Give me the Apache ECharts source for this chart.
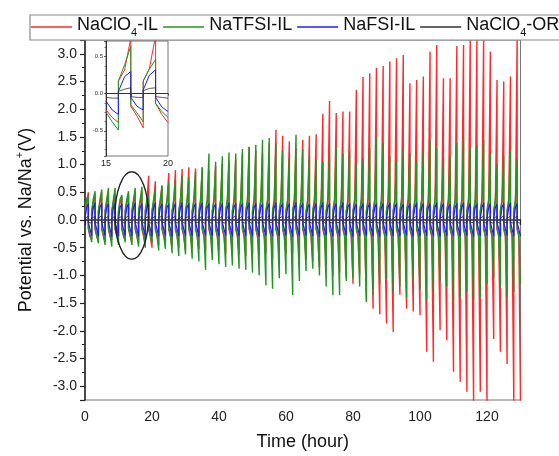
<!DOCTYPE html>
<html><head><meta charset="utf-8">
<script src="https://cdn.jsdelivr.net/npm/echarts@6/dist/echarts.min.js"></script>
<style>html,body{margin:0;padding:0;background:#fff}#c{width:559px;height:456px}</style>
</head><body><div id="c"></div>
<script>
// ---- data ----
const seriesNames = ['NaClO4-IL', 'NaTFSI-IL', 'NaFSI-IL', 'NaClO4-OR'];
const xTickLabels = ['0', '20', '40', '60', '80', '100', '120'];
const yTickLabels = ['-3.0','-2.5','-2.0','-1.5','-1.0','-0.5','0.0','0.5','1.0','1.5','2.0','2.5','3.0'];
// one entry per 2-hour cycle: positive peak at end of charge, negative peak at end of discharge
const redPos = [0.50,0.47,0.50,0.46,0.44,0.42,0.46,0.50,0.52,0.80, 0.70,0.62,0.85,0.90,0.92,0.95,0.93,0.95,0.90,0.98,
  1.00,1.05,1.10,1.20,1.32,1.25,1.20,1.38,1.63,1.52, 1.42,1.30,1.45,1.52,1.55,1.92,2.15,1.93,1.96,1.96,
  2.35,2.58,2.65,2.75,2.78,2.86,2.92,2.98,2.47,2.53, 2.59,3.04,3.16,2.56,2.56,3.14,3.16,3.30,3.30,3.30,
  3.04,2.53,2.50,2.59,3.30];
const redNeg = [-0.35,-0.38,-0.40,-0.36,-0.32,-0.35,-0.40,-0.42,-0.45,-0.50, -0.45,-0.42,-0.48,-0.50,-0.55,-0.50,-0.52,-0.55,-0.50,-0.55,
  -0.60,-0.58,-0.62,-0.65,-0.60,-0.62,-0.60,-0.70,-0.65,-0.62, -0.60,-0.68,-0.72,-0.75,-0.85,-0.80,-1.00,-0.95,-1.05,-1.15,
  -1.00,-1.45,-1.60,-1.70,-1.87,-2.02,-1.35,-1.60,-1.65,-1.72, -2.38,-2.56,-1.99,-2.17,-2.74,-2.92,-3.10,-3.30,-3.10,-3.30,
  -2.15,-2.38,-2.60,-3.30,-3.30];
const greenPos = [0.45,0.52,0.55,0.58,0.58,0.45,0.52,0.58,0.60,0.45, 0.55,0.62,0.68,0.72,0.80,0.78,0.88,0.95,1.20,1.05,
  1.15,1.22,1.20,1.28,1.32,1.36,1.45,1.48,1.38,1.25, 1.12,1.54,1.28,1.15,1.10,1.05,1.15,1.30,1.20,1.25,
  1.00,1.10,1.30,1.50,1.40,1.15,1.05,1.30,1.20,1.05, 1.25,1.45,1.30,1.10,1.15,1.40,1.50,1.30,1.35,1.45,
  1.20,1.00,1.15,1.25,1.10];
const greenNeg = [-0.40,-0.42,-0.45,-0.48,-0.45,-0.40,-0.45,-0.48,-0.50,-0.42, -0.55,-0.52,-0.60,-0.65,-0.62,-0.70,-0.75,-0.90,-0.72,-0.80,
  -0.85,-0.82,-0.88,-0.90,-0.95,-1.00,-1.18,-1.24,-1.05,-0.98, -1.36,-1.10,-0.92,-0.88,-1.00,-1.20,-1.36,-1.36,-1.10,-1.05,
  -1.20,-1.48,-1.35,-1.15,-1.05,-1.30,-1.20,-1.40,-1.10,-1.25, -1.45,-1.30,-1.10,-1.20,-1.45,-1.40,-1.30,-1.45,-1.40,-1.15,
  -1.05,-1.20,-1.40,-1.30,-1.15];
const bluePos = [0.30,0.31,0.30,0.30,0.31,0.29,0.30,0.31,0.30,0.30, 0.31,0.30,0.29,0.30,0.31,0.30,0.30,0.31,0.30,0.29,
  0.30,0.31,0.30,0.30,0.31,0.30,0.29,0.30,0.31,0.30, 0.30,0.31,0.30,0.29,0.30,0.31,0.30,0.30,0.31,0.30,
  0.29,0.30,0.31,0.30,0.30,0.31,0.30,0.29,0.30,0.31, 0.30,0.30,0.31,0.30,0.29,0.30,0.31,0.30,0.30,0.31,
  0.30,0.29,0.30,0.31,0.30];
const blueNeg = [-0.28,-0.29,-0.28,-0.30,-0.29,-0.28,-0.29,-0.30,-0.28,-0.29, -0.29,-0.28,-0.30,-0.29,-0.28,-0.29,-0.30,-0.28,-0.29,-0.29,
  -0.28,-0.30,-0.29,-0.28,-0.29,-0.30,-0.28,-0.29,-0.29,-0.28, -0.30,-0.29,-0.28,-0.29,-0.30,-0.28,-0.29,-0.29,-0.28,-0.30,
  -0.29,-0.28,-0.29,-0.30,-0.28,-0.29,-0.29,-0.28,-0.30,-0.29, -0.28,-0.29,-0.30,-0.28,-0.29,-0.29,-0.28,-0.30,-0.29,-0.28,
  -0.29,-0.30,-0.28,-0.29,-0.29];
const blackPos = [0.07,0.07,0.08,0.07,0.07,0.07,0.08,0.07,0.07,0.07, 0.07,0.08,0.07,0.07,0.07,0.07,0.08,0.07,0.07,0.07,
  0.07,0.07,0.08,0.07,0.07,0.07,0.07,0.08,0.07,0.07, 0.07,0.07,0.08,0.07,0.07,0.07,0.07,0.08,0.07,0.07,
  0.07,0.07,0.08,0.07,0.07,0.07,0.07,0.08,0.07,0.07, 0.07,0.07,0.08,0.07,0.07,0.07,0.07,0.08,0.07,0.07,
  0.07,0.07,0.08,0.07,0.07];
const blackNeg = [-0.06,-0.06,-0.05,-0.06,-0.06,-0.06,-0.05,-0.06,-0.06,-0.06, -0.06,-0.05,-0.06,-0.06,-0.06,-0.06,-0.05,-0.06,-0.06,-0.06,
  -0.06,-0.06,-0.05,-0.06,-0.06,-0.06,-0.06,-0.05,-0.06,-0.06, -0.06,-0.06,-0.05,-0.06,-0.06,-0.06,-0.06,-0.05,-0.06,-0.06,
  -0.06,-0.06,-0.05,-0.06,-0.06,-0.06,-0.06,-0.05,-0.06,-0.06, -0.06,-0.06,-0.05,-0.06,-0.06,-0.06,-0.06,-0.05,-0.06,-0.06,
  -0.06,-0.06,-0.05,-0.06,-0.06];
// start / mid-half values of each half cycle
const redShape   = [0.15, 0.32, -0.17, -0.30];
const greenShape = [0.17, 0.38, -0.15, -0.27];
const blueShape  = [0.03, 0.23, -0.05, -0.17];
const blackShape = [0.03, 0.06, -0.04, -0.05];
// inset (15-20 h)
const insetT     = [15, 15.5, 16, 16, 16.5, 17, 17, 17.5, 18, 18, 18.5, 19, 19, 19.5, 20];
const insetRed   = [-0.22,-0.32,-0.39, 0.17,0.32,0.75, -0.17,-0.30,-0.46, 0.17,0.34,0.78, -0.13,-0.28,-0.39];
const insetGreen = [-0.25,-0.38,-0.49, 0.17,0.39,0.64, -0.15,-0.26,-0.38, 0.17,0.33,0.46, -0.13,-0.24,-0.32];
const insetBlue  = [-0.10,-0.22,-0.28, 0.03,0.23,0.30, -0.05,-0.17,-0.22, 0.05,0.25,0.32, -0.05,-0.18,-0.24];
const insetBlack = [-0.05,-0.06,-0.06, 0.03,0.06,0.08, -0.04,-0.05,-0.05, 0.04,0.07,0.08, -0.04,-0.05,-0.06];
const ellipseCenter = [13.95, 0.08];
const ellipseRadius = [5.0, 0.79];

// ---- build ----
const colors = ['#ff2a2a', '#229622', '#1f1fff', '#333333'];
const widths = [1.4, 1.4, 1.3, 0.9];
const FONT = 'Liberation Sans, Arial, sans-serif';
function cycles(pos, neg, shape) {
  const pts = [];
  for (let k = 0; k < pos.length; k++) {
    const t0 = 2 * k;
    pts.push([t0, shape[0]], [t0 + 0.5, shape[1]], [t0 + 1, pos[k]]);
    pts.push([t0 + 1, shape[2]], [t0 + 1.5, shape[3]], [t0 + 2, neg[k]]);
  }
  return pts;
}
const mainData = [
  cycles(redPos, redNeg, redShape),
  cycles(greenPos, greenNeg, greenShape),
  cycles(bluePos, blueNeg, blueShape),
  cycles(blackPos, blackNeg, blackShape)
];
const insetData = [insetRed, insetGreen, insetBlue, insetBlack].map(a => a.map((v, i) => [insetT[i], v]));

const legendRich = {
  n: {fontSize: 18, fontFamily: FONT, color: '#111', lineHeight: 18, padding: [0, 0, 4, 0]},
  s: {fontSize: 11, fontFamily: FONT, color: '#111', lineHeight: 11, padding: [11, 0, 0, 0]}
};
function legendFmt(name) {
  const m = name.match(/^(.*ClO)4(.*)$/);
  if (m) return '{n|' + m[1] + '}{s|4}{n|' + m[2] + '}';
  return '{n|' + name + '}';
}

const chart = echarts.init(document.getElementById('c'), null, {renderer: 'canvas'});
const series = [];
seriesNames.forEach((nm, i) => {
  series.push({name: nm, type: 'line', xAxisIndex: 0, yAxisIndex: 0, data: mainData[i], showSymbol: false, symbol: 'none',
    lineStyle: {color: colors[i], width: widths[i]}, itemStyle: {color: colors[i]}, clip: true, animation: false, z: 2 + i});
});
seriesNames.forEach((nm, i) => {
  series.push({name: nm, type: 'line', xAxisIndex: 1, yAxisIndex: 1, data: insetData[i], showSymbol: false, symbol: 'none',
    lineStyle: {color: colors[i], width: i === 3 ? 0.8 : 1}, itemStyle: {color: colors[i]}, clip: true, animation: false, z: 12 + i});
});

chart.setOption({
  animation: false,
  backgroundColor: '#fff',
  legend: {
    data: seriesNames.map(n => ({name: n, icon: 'rect'})), left: 30, top: 15, width: 800, orient: 'horizontal',
    itemWidth: 41, itemHeight: 1.6, itemGap: 5, padding: [1, 2, 2, 1],
    borderColor: '#8a8a8a', borderWidth: 1.2, backgroundColor: '#fff',
    formatter: legendFmt, textStyle: {fontSize: 18, fontFamily: FONT, color: '#111', rich: legendRich},
    selectedMode: false, z: 20
  },
  grid: [
    {left: 85, right: 38.5, top: 40, bottom: 55, show: true, borderColor: '#777', borderWidth: 1, backgroundColor: 'transparent'},
    {left: 106, width: 62, top: 41, height: 115, show: true, borderColor: '#777', borderWidth: 1, backgroundColor: '#fff', z: 10}
  ],
  xAxis: [
    {type: 'value', gridIndex: 0, min: 0, max: 130, interval: 20,
      name: 'Time (hour)', nameLocation: 'middle', nameGap: 33,
      nameTextStyle: {fontSize: 18, fontFamily: FONT, color: '#111'},
      axisLine: {lineStyle: {color: '#222', width: 1.5}},
      axisTick: {inside: false, length: 5, lineStyle: {color: '#222', width: 1.2}},
      minorTick: {show: true, splitNumber: 2, length: 3, lineStyle: {color: '#222', width: 1}},
      axisLabel: {fontSize: 14, fontFamily: FONT, color: '#222', margin: 10, showMaxLabel: false,
        formatter: v => xTickLabels.indexOf(String(v)) >= 0 ? String(v) : ''},
      splitLine: {show: false}},
    {type: 'value', gridIndex: 1, min: 15, max: 20, interval: 5,
      axisLine: {lineStyle: {color: '#333', width: 1}},
      axisTick: {length: 2, lineStyle: {color: '#333', width: 0.8}},
      minorTick: {show: true, splitNumber: 5, length: 2, lineStyle: {color: '#333', width: 0.8}},
      axisLabel: {fontSize: 9, fontFamily: FONT, color: '#222', margin: 3},
      splitLine: {show: false}, z: 11}
  ],
  yAxis: [
    {type: 'value', gridIndex: 0, min: -3.25, max: 3.25, splitNumber: 13,
      name: 'Potential vs. Na/Na{p|+}(V)', nameLocation: 'middle', nameGap: 50, nameRotate: 90,
      nameTextStyle: {fontSize: 18, fontFamily: FONT, color: '#111',
        rich: {p: {fontSize: 11, fontFamily: FONT, color: '#111', lineHeight: 11, padding: [0, 0, 12, 0]}}},
      axisLine: {lineStyle: {color: '#222', width: 1.5}},
      axisTick: {length: 5, lineStyle: {color: '#222', width: 1.2}},
      minorTick: {show: true, splitNumber: 2, length: 3, lineStyle: {color: '#222', width: 1}},
      axisLabel: {fontSize: 14, fontFamily: FONT, color: '#222', margin: 8, showMinLabel: false, showMaxLabel: false,
        formatter: v => { const s = v.toFixed(1); return yTickLabels.indexOf(s) >= 0 ? s : ''; }},
      splitLine: {show: false}},
    {type: 'value', gridIndex: 1, min: -0.84, max: 0.71, splitNumber: 3,
      axisLine: {lineStyle: {color: '#333', width: 1}},
      axisTick: {length: 2, lineStyle: {color: '#333', width: 0.8}},
      minorTick: {show: true, splitNumber: 4, length: 1.5, lineStyle: {color: '#333', width: 0.6}},
      axisLabel: {fontSize: 6, fontFamily: FONT, color: '#333', margin: 3, showMinLabel: false, showMaxLabel: false,
        formatter: v => v.toFixed(1)},
      splitLine: {show: false}, z: 11}
  ],
  series: series
});

// annotation ellipse around the zoomed region
const c = chart.convertToPixel({gridIndex: 0}, ellipseCenter);
const e = chart.convertToPixel({gridIndex: 0}, [ellipseCenter[0] + ellipseRadius[0], ellipseCenter[1] + ellipseRadius[1]]);
const rx = e[0] - c[0], ry = c[1] - e[1], K = 0.5523;
const cx = c[0], cy = c[1];
const segs = [
  [cx + rx, cy, cx + rx, cy + K * ry, cx + K * rx, cy + ry, cx, cy + ry],
  [cx, cy + ry, cx - K * rx, cy + ry, cx - rx, cy + K * ry, cx - rx, cy],
  [cx - rx, cy, cx - rx, cy - K * ry, cx - K * rx, cy - ry, cx, cy - ry],
  [cx, cy - ry, cx + K * rx, cy - ry, cx + rx, cy - K * ry, cx + rx, cy]
];
chart.setOption({graphic: segs.map(s => ({type: 'bezierCurve', z: 30, silent: true,
  shape: {x1: s[0], y1: s[1], cpx1: s[2], cpy1: s[3], cpx2: s[4], cpy2: s[5], x2: s[6], y2: s[7]},
  style: {stroke: '#222', lineWidth: 1.4, fill: null}}))});
</script>
</body></html>
